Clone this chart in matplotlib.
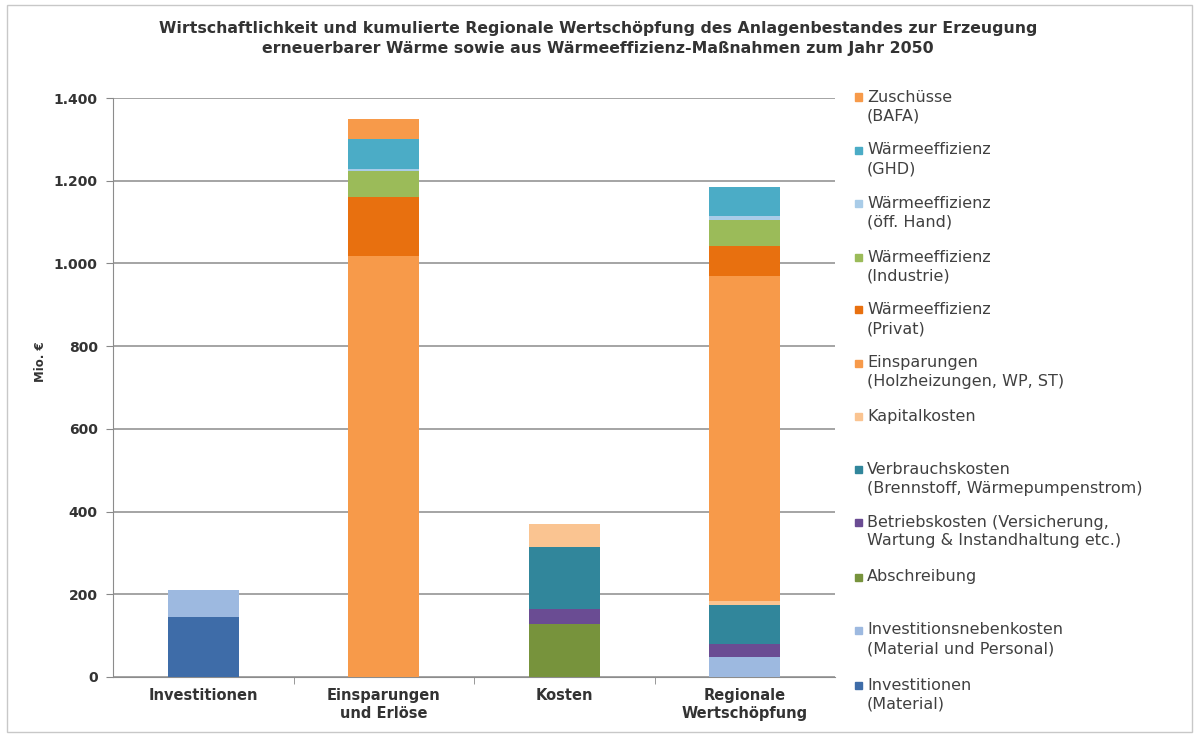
import matplotlib
matplotlib.use("Agg")
import matplotlib.pyplot as plt
from matplotlib.patches import Rectangle
import numpy as np

plt.rcParams['font.family'] = ['DejaVu Sans']

categories = ["Investitionen", "Einsparungen\nund Erlöse", "Kosten", "Regionale\nWertschöpfung"]

# stack order bottom -> top
series_names = [
    "Investitionen\n(Material)",
    "Investitionsnebenkosten\n(Material und Personal)",
    "Abschreibung",
    "Betriebskosten (Versicherung,\nWartung & Instandhaltung etc.)",
    "Verbrauchskosten\n(Brennstoff, Wärmepumpenstrom)",
    "Kapitalkosten",
    "Einsparungen\n(Holzheizungen, WP, ST)",
    "Wärmeeffizienz\n(Privat)",
    "Wärmeeffizienz\n(Industrie)",
    "Wärmeeffizienz\n(öff. Hand)",
    "Wärmeeffizienz\n(GHD)",
    "Zuschüsse\n(BAFA)",
]
investitionen_material = [145, 0, 0, 0]
investitionsnebenkosten = [65, 0, 0, 48]
abschreibung = [0, 0, 128, 0]
betriebskosten = [0, 0, 36, 32]
verbrauchskosten = [0, 0, 150, 94]
kapitalkosten = [0, 0, 56, 10]
einsparungen = [0, 1017, 0, 786]
waermeeff_privat = [0, 143, 0, 73]
waermeeff_industrie = [0, 63, 0, 63]
waermeeff_oeff_hand = [0, 5, 0, 8]
waermeeff_ghd = [0, 72, 0, 71]
zuschuesse = [0, 50, 0, 0]

series_values = [investitionen_material, investitionsnebenkosten, abschreibung,
                 betriebskosten, verbrauchskosten, kapitalkosten, einsparungen,
                 waermeeff_privat, waermeeff_industrie, waermeeff_oeff_hand,
                 waermeeff_ghd, zuschuesse]
colors = ["#3E6CA8", "#9DB9E0", "#77933C", "#6A4C93", "#31869B", "#FAC491",
          "#F79A4A", "#E8700F", "#9BBB59", "#A9CCE8", "#4BACC6", "#F79A4A"]

yticks = [0, 200, 400, 600, 800, 1000, 1200, 1400]
ytick_labels = ["0", "200", "400", "600", "800", "1.000", "1.200", "1.400"]

W, H = 1197, 740
fig = plt.figure(figsize=(W / 100, H / 100), dpi=100)
ax = fig.add_axes([113 / W, 1 - 677 / H, (835 - 113) / W, (677 - 98) / H])

x = np.arange(len(categories))
bottom = np.zeros(len(categories))
for vals, col in zip(series_values, colors):
    ax.bar(x, vals, 0.395, bottom=bottom, color=col, zorder=3, linewidth=0)
    bottom += np.array(vals)

ax.set_xlim(-0.5, 3.5)
ax.set_ylim(0, 1400)
ax.set_yticks(yticks)
ax.set_yticklabels(ytick_labels, fontsize=10, fontweight='bold', color='#333333')
ax.set_xticks(x)
ax.set_xticklabels(categories, fontsize=10.5, fontweight='bold', color='#333333',
                   linespacing=1.25)
ax.tick_params(axis='x', length=0, pad=8)
ax.tick_params(axis='y', length=5, color='#888888', pad=6)
# minor ticks between categories on x axis
ax.set_xticks([0.5, 1.5, 2.5], minor=True)
ax.tick_params(axis='x', which='minor', length=5, color='#888888', direction='out')
ax.grid(axis='y', color='#8C8C8C', linewidth=1.1, zorder=0)
for s in ['top', 'right']:
    ax.spines[s].set_visible(False)
ax.spines['left'].set_color('#8C8C8C')
ax.spines['bottom'].set_color('#8C8C8C')

fig.text(40 / W, 1 - 362 / H, "Mio. €", rotation=90, fontsize=8.5, fontweight='bold',
         ha='center', va='center', color='#333333')

fig.text(598 / W, 1 - 29 / H,
         "Wirtschaftlichkeit und kumulierte Regionale Wertschöpfung des Anlagenbestandes zur Erzeugung",
         fontsize=11.3, fontweight='bold', ha='center', va='center', color='#333333')
fig.text(598 / W, 1 - 48 / H,
         "erneuerbarer Wärme sowie aus Wärmeeffizienz-Maßnahmen zum Jahr 2050",
         fontsize=11.3, fontweight='bold', ha='center', va='center', color='#333333')

# legend (reverse stack order), drawn manually
leg_y = [97, 150, 203, 257, 310, 363, 416, 469, 522, 577, 630, 685]
for i, idx in enumerate(range(len(series_names) - 1, -1, -1)):
    yy = leg_y[i]
    fig.patches.append(Rectangle((855 / W, 1 - (yy + 3.5) / H), 7 / W, 7 / H,
                                 transform=fig.transFigure, color=colors[idx]))
    for j, line in enumerate(series_names[idx].split("\n")):
        fig.text(867 / W, 1 - (yy + j * 19) / H, line, fontsize=11.5,
                 ha='left', va='center', color='#404040')

# outer frame
fig.patches.append(Rectangle((7 / W, 1 - 732 / H), (1192 - 7) / W, (732 - 5) / H,
                             transform=fig.transFigure, fill=False,
                             edgecolor='#C8C8C8', linewidth=1))

fig.savefig("out.png", dpi=100)
